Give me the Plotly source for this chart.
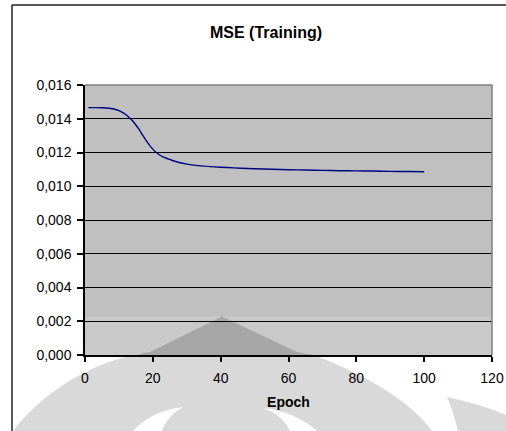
import plotly.graph_objects as go

# Training error per epoch
epochs = [1, 3, 5, 7, 9, 10, 11, 12, 13, 14, 15, 16, 17, 18, 19, 20, 21, 22, 23, 24,
          25, 26, 28, 30, 32, 35, 38, 42, 46, 50, 55, 60, 65, 70, 75, 80, 85, 90, 95, 100]
mse = [0.01466, 0.01466, 0.01465, 0.01462, 0.01455, 0.01448, 0.01438, 0.01425, 0.01408,
       0.01388, 0.01363, 0.01335, 0.01303, 0.01272, 0.01244, 0.01220, 0.01200, 0.01185,
       0.01174, 0.01166, 0.01159, 0.01151, 0.01139, 0.01131, 0.01125, 0.01119, 0.01115,
       0.01111, 0.01107, 0.01104, 0.01101, 0.01098, 0.01096, 0.01094, 0.01092, 0.01091,
       0.01090, 0.01088, 0.01087, 0.01086]

x_ticks = [0, 20, 40, 60, 80, 100, 120]
y_ticks = [0.000, 0.002, 0.004, 0.006, 0.008, 0.010, 0.012, 0.014, 0.016]

W, H = 506, 431
L, R, T, B = 85, 492, 85, 355   # plot area in pixels


def px(x):
    return (x - L) / (R - L)


def py(y):
    return (B - y) / (B - T)


def P(*pts):
    out = []
    for p in pts:
        if isinstance(p, str):
            out.append(p)
        else:
            out.append(f"{px(p[0]):.5f},{py(p[1]):.5f}")
    return " ".join(out)


fig = go.Figure()
fig.add_trace(go.Scatter(
    x=epochs, y=mse, mode="lines",
    line=dict(color="#000080", width=1.4, shape="spline", smoothing=0.6),
    hoverinfo="skip", showlegend=False,
))

font = "Liberation Sans, Arial, sans-serif"

shapes = []
# light band of the background emblem inside the plot area
shapes.append(dict(type="rect", xref="paper", yref="paper", layer="below",
                   x0=px(L), x1=px(R), y0=py(B), y1=py(316.5),
                   fillcolor="rgba(255,255,255,0.15)", line=dict(width=0)))

# emblem dome below the axis
dome = P("M", (13, 431), "C", (40, 395), (90, 362), (137, 355), "L", (313, 355),
         "C", (360, 372), (410, 400), (432, 431), "Z")
shapes.append(dict(type="path", xref="paper", yref="paper", layer="below", path=dome,
                   fillcolor="#d9d9d9", line=dict(width=0)))
# white cut-outs of the emblem
cut1 = P("M", (133, 431), "C", (145, 418), (160, 410), (183, 407),
         "C", (172, 413), (165, 422), (162, 431), "Z")
cut2 = P("M", (263, 408), "C", (285, 410), (305, 420), (317, 431), "L", (290, 431),
         "C", (285, 420), (275, 412), (263, 408), "Z")
for c in (cut1, cut2):
    shapes.append(dict(type="path", xref="paper", yref="paper", layer="below", path=c,
                       fillcolor="white", line=dict(width=0)))
# right emblem fragment
right = P("M", (447, 397), "C", (470, 402), (490, 408), (506, 415), "L", (506, 431),
          "L", (458, 431), "C", (455, 418), (451, 406), (447, 397), "Z")
shapes.append(dict(type="path", xref="paper", yref="paper", layer="below", path=right,
                   fillcolor="#d9d9d9", line=dict(width=0)))
# emblem peak inside the plot area
peak = P("M", (137, 355), "C", (142, 353.5), (146, 352.5), (150, 352), "L", (222, 316.5),
         "L", (297, 352), "C", (302, 353), (308, 354), (313, 355), "Z")
shapes.append(dict(type="path", xref="paper", yref="paper", layer="below", path=peak,
                   fillcolor="#a6a6a6", line=dict(width=0)))

# gray top and right edges of the plot area
shapes.append(dict(type="path", xref="paper", yref="paper", layer="above",
                   path=P("M", (L, T), "L", (R, T), "L", (R, B)),
                   line=dict(color="#808080", width=1.5)))
# chart frame: left and top edges
shapes.append(dict(type="line", xref="paper", yref="paper", layer="above",
                   x0=px(12), x1=px(12), y0=py(431), y1=py(5),
                   line=dict(color="#222222", width=1.5)))
shapes.append(dict(type="line", xref="paper", yref="paper", layer="above",
                   x0=px(12), x1=px(506), y0=py(5), y1=py(5),
                   line=dict(color="#222222", width=1.5)))

fig.update_layout(
    width=W, height=H, autosize=False,
    margin=dict(l=L, r=W - R, t=T, b=H - B),
    paper_bgcolor="white", plot_bgcolor="#c0c0c0",
    separators=",.",
    title=dict(text="<b>MSE (Training)</b>", x=266 / W, xanchor="center",
               y=1 - 32 / H, yanchor="middle",
               font=dict(family=font, size=16, color="black")),
    font=dict(family=font, size=14, color="black"),
    shapes=shapes,
    xaxis=dict(range=[0, 120], tickvals=x_ticks, ticktext=[str(v) for v in x_ticks],
               showgrid=False, zeroline=False, showline=True, linecolor="black",
               linewidth=1.5, ticks="outside", ticklen=5, tickcolor="black", tickwidth=1.5,
               tickfont=dict(size=14), ticklabelstandoff=4, automargin=False,
               title=dict(text="<b>Epoch</b>", font=dict(size=14), standoff=13)),
    yaxis=dict(range=[0, 0.016], tickvals=y_ticks, tickformat=".3f",
               showgrid=True, gridcolor="black", gridwidth=1.3,
               zeroline=False, showline=True, linecolor="black", linewidth=1.5,
               ticks="outside", ticklen=6, tickcolor="black", tickwidth=1.5,
               tickfont=dict(size=14), ticklabelstandoff=3, automargin=False),
)

# keep the page free of scrollbars so the chart keeps its full size
page_js = ("document.documentElement.style.overflow='hidden';"
           "document.body.style.overflow='hidden';"
           "document.body.style.margin='0';")

fig.write_html("out.html", config={"displayModeBar": False, "responsive": False},
               post_script=page_js)
